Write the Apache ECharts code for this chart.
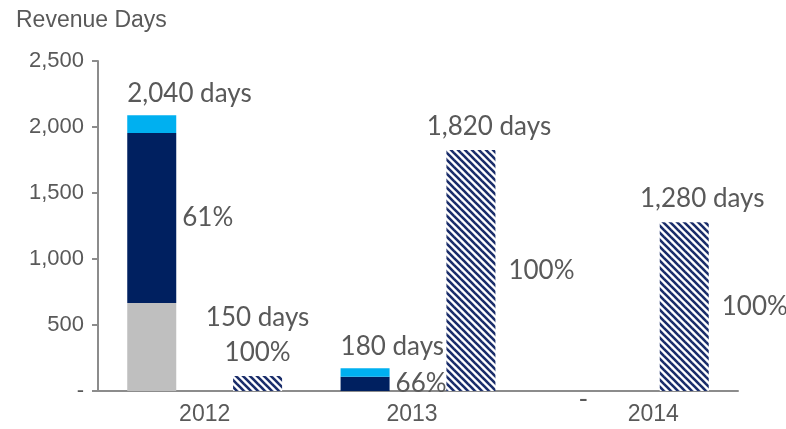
<!DOCTYPE html>
<html>
<head>
<meta charset="utf-8">
<script src="https://cdn.jsdelivr.net/npm/echarts@6/dist/echarts.min.js"></script>
<style>
  html, body { margin: 0; padding: 0; background: #fff; }
  #chart { width: 786px; height: 429px; }
</style>
</head>
<body>
<div id="chart"></div>
<script>
// data
var years = ['2012', '2013', '2014'];
var greyDays = [667, 0, 0];
var navyDays = [1288, 108, 0];
var blueDays = [134, 64, 0];
var hatchDays = [114, 1826, 1278];
var yTickLabels = ['-', '500', '1,000', '1,500', '2,000', '2,500'];
var totalLabels = ['2,040 days', '180 days', ''];
var navyShareLabels = ['61%', '66%', ''];
var emptyLabels = ['', '', '-'];
var hatchDayLabels = ['150 days\n100%', '1,820 days', '1,280 days'];
var hatchShareLabels = ['', '100%', '100%'];

var txt = '#595959';
var labelFont = 'Lato';
var bw = 49;

// hatched fill
var tile = document.createElement('canvas');
tile.width = 7; tile.height = 7;
var g = tile.getContext('2d');
g.fillStyle = '#ffffff';
g.fillRect(0, 0, 7, 7);
g.strokeStyle = '#1a2d6a';
g.lineWidth = 2.6;
for (var k = -1; k <= 1; k++) {
    g.beginPath();
    g.moveTo(-2, -2 + k * 7);
    g.lineTo(9, 9 + k * 7);
    g.stroke();
}

var chart = echarts.init(document.getElementById('chart'));

var dataLabel = { color: txt, fontFamily: labelFont, fontSize: 26 };

var option = {
    animation: false,
    title: {
        text: 'Revenue Days',
        left: 11, top: 4,
        textStyle: { color: txt, fontFamily: 'Liberation Sans', fontSize: 23, fontWeight: 'normal' }
    },
    grid: { left: 98, right: 48, top: 61, bottom: 38 },
    xAxis: {
        type: 'category',
        data: years.map(function (y, i) {
            return { value: y, textStyle: { padding: [0, 0, 0, i === 2 ? 44 : (i === 1 ? -12 : 0)] } };
        }),
        axisLine: { lineStyle: { color: '#8c8c8c', width: 2 } },
        axisTick: { show: false },
        axisLabel: { color: txt, fontFamily: 'Liberation Sans', fontSize: 23, margin: 12 }
    },
    yAxis: {
        type: 'value',
        min: 0, max: 2500, interval: 500,
        splitLine: { show: false },
        axisLine: { show: true, lineStyle: { color: '#8c8c8c', width: 2 } },
        axisTick: { show: true, length: 6, lineStyle: { color: '#8c8c8c', width: 2 } },
        axisLabel: {
            color: txt, fontFamily: 'Liberation Sans', fontSize: 22, margin: 14,
            formatter: function (v) { return yTickLabels[Math.round(v / 500)]; }
        }
    },
    series: [
        {
            type: 'bar', stack: 'a', data: greyDays,
            barWidth: bw, barGap: '116%',
            itemStyle: { color: '#bfbfbf' },
            label: Object.assign({
                show: true, position: 'bottom', distance: 0, offset: [5, -4],
                formatter: function (p) { return emptyLabels[p.dataIndex]; }
            }, dataLabel)
        },
        {
            type: 'bar', stack: 'a', data: navyDays, barWidth: bw,
            itemStyle: { color: '#002060' },
            label: Object.assign({
                show: true, position: 'right', distance: 6,
                formatter: function (p) { return navyShareLabels[p.dataIndex]; }
            }, dataLabel)
        },
        {
            type: 'bar', stack: 'a', data: blueDays, barWidth: bw,
            itemStyle: { color: '#00b0f0' },
            label: Object.assign({
                show: true, position: [0, -22], align: 'left', verticalAlign: 'middle',
                formatter: function (p) { return totalLabels[p.dataIndex]; }
            }, dataLabel)
        },
        {
            type: 'bar', stack: 'b', data: hatchDays, barWidth: bw, barGap: '116%',
            itemStyle: { color: { image: tile, repeat: 'repeat' } },
            label: Object.assign({
                show: true, position: 'right', distance: 13,
                formatter: function (p) { return hatchShareLabels[p.dataIndex]; }
            }, dataLabel)
        },
        {
            // zero-height bar on top of the hatched one, carries the "days" label
            type: 'bar', stack: 'b', barWidth: bw, barGap: '116%',
            data: hatchDayLabels.map(function (t, i) {
                return { value: 0, label: { offset: [i === 0 ? 0 : 18, 0] } };
            }),
            itemStyle: { color: 'transparent' },
            label: Object.assign({
                show: true, position: 'top', distance: 6, lineHeight: 35,
                formatter: function (p) { return hatchDayLabels[p.dataIndex]; }
            }, dataLabel)
        }
    ]
};

chart.setOption(option);
</script>
</body>
</html>
